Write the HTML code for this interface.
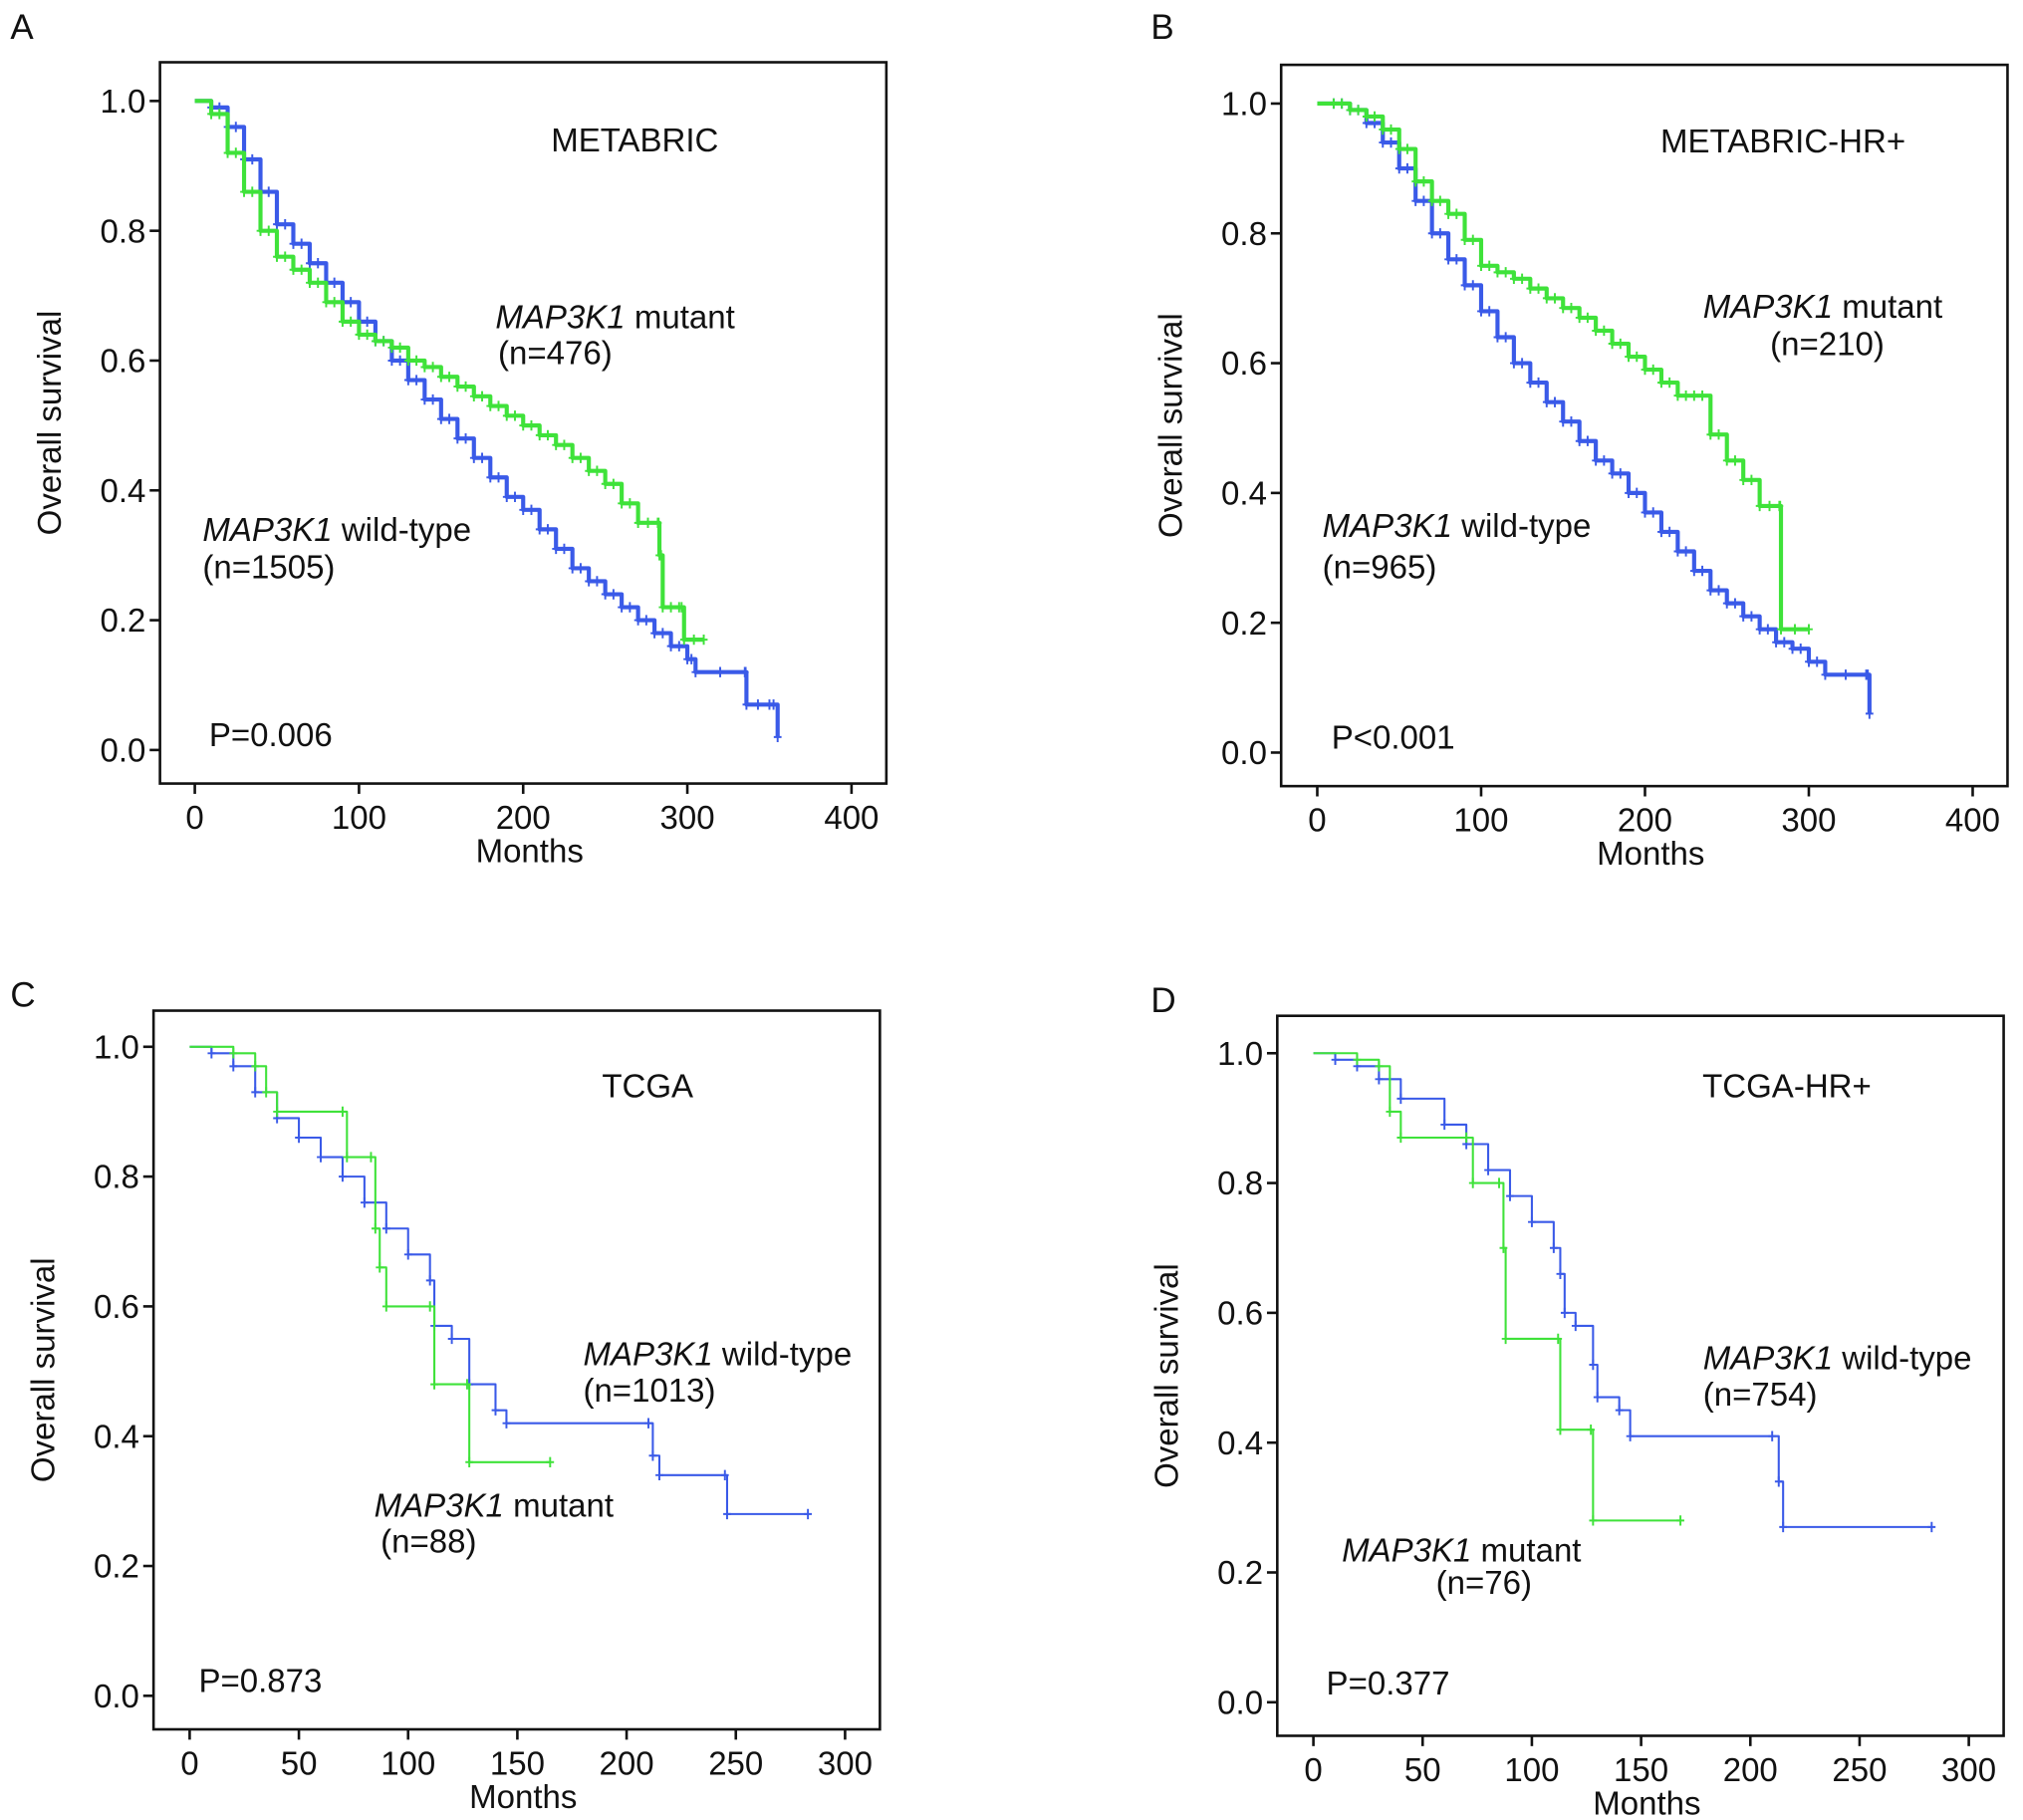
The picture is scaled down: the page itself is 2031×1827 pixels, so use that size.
<!DOCTYPE html>
<html><head><meta charset="utf-8"><style>
html,body{margin:0;padding:0;background:#fff}
svg{display:block}
text{font-family:"Liberation Sans",Arial,sans-serif;fill:#111}
</style></head><body>
<svg id="fig" width="2031" height="1827" viewBox="0 0 1568 1410"></svg>
<script>
// Panel A (METABRIC)
const aWildT=[0,10,20,30,40,50,60,70,80,90,100,110,120,130,140,150,160,170,180,190,200,210,220,230,240,250,260,270,280,290,300,305,335,336,350,355];
const aWildS=[1,0.99,0.96,0.91,0.86,0.81,0.78,0.75,0.72,0.69,0.66,0.63,0.60,0.57,0.54,0.51,0.48,0.45,0.42,0.39,0.37,0.34,0.31,0.28,0.26,0.24,0.22,0.20,0.18,0.16,0.14,0.12,0.12,0.07,0.07,0.02];
const aMutT=[0,10,20,30,40,50,60,70,80,90,100,110,120,130,140,150,160,170,180,190,200,210,220,230,240,250,260,270,282,283,285,295,298,310];
const aMutS=[1,0.98,0.92,0.86,0.80,0.76,0.74,0.72,0.69,0.66,0.64,0.63,0.62,0.60,0.59,0.575,0.56,0.545,0.53,0.515,0.50,0.485,0.47,0.45,0.43,0.41,0.38,0.35,0.35,0.30,0.22,0.22,0.17,0.17];
// Panel B (METABRIC-HR+)
const bWildT=[0,10,20,30,40,50,60,70,80,90,100,110,120,130,140,150,160,170,180,190,200,210,220,230,240,250,260,270,280,290,300,310,335,337];
const bWildS=[1,1,0.99,0.97,0.94,0.90,0.85,0.80,0.76,0.72,0.68,0.64,0.60,0.57,0.54,0.51,0.48,0.45,0.43,0.40,0.37,0.34,0.31,0.28,0.25,0.23,0.21,0.19,0.17,0.16,0.14,0.12,0.12,0.06];
const bMutT=[0,10,20,30,40,50,60,70,80,90,100,110,120,130,140,150,160,170,180,190,200,210,220,230,240,250,260,270,282,283,300];
const bMutS=[1,1,0.99,0.98,0.96,0.93,0.88,0.85,0.83,0.79,0.75,0.74,0.73,0.715,0.70,0.685,0.67,0.65,0.63,0.61,0.59,0.57,0.55,0.55,0.49,0.45,0.42,0.38,0.38,0.19,0.19];
// Panel C (TCGA)
const cWildT=[0,10,20,30,40,50,60,70,80,90,100,110,112,120,128,140,145,210,212,215,245,246,283];
const cWildS=[1,0.99,0.97,0.93,0.89,0.86,0.83,0.80,0.76,0.72,0.68,0.64,0.57,0.55,0.48,0.44,0.42,0.42,0.37,0.34,0.34,0.28,0.28];
const cMutT=[0,20,30,35,40,70,72,83,85,87,90,110,112,127,128,165];
const cMutS=[1,0.99,0.97,0.93,0.90,0.90,0.83,0.83,0.72,0.66,0.60,0.60,0.48,0.48,0.36,0.36];
// Panel D (TCGA-HR+)
const dWildT=[0,10,20,30,40,60,70,80,90,100,110,113,115,120,128,130,140,145,210,213,215,283];
const dWildS=[1,0.99,0.98,0.96,0.93,0.89,0.86,0.82,0.78,0.74,0.70,0.66,0.60,0.58,0.52,0.47,0.45,0.41,0.41,0.34,0.27,0.27];
const dMutT=[0,20,30,35,40,70,73,85,87,88,112,113,127,128,168];
const dMutS=[1,0.99,0.98,0.91,0.87,0.87,0.80,0.80,0.70,0.56,0.56,0.42,0.42,0.28,0.28];
const yTicks=["0.0","0.2","0.4","0.6","0.8","1.0"];
const xTicksA=["0","100","200","300","400"];
const xTicksC=["0","50","100","150","200","250","300"];

const NS="http://www.w3.org/2000/svg";
const svg=document.getElementById('fig');
const FS=25.5;
function mk(tag,attrs,parent){const e=document.createElementNS(NS,tag);for(const k in attrs)e.setAttribute(k,attrs[k]);(parent||svg).appendChild(e);return e;}
function txt(x,y,s,size,parent,anchor){const t=mk('text',{x:x,y:y,'font-size':size,'text-anchor':anchor||'start'},parent);t.textContent=s;return t;}

const panels=[
 {letter:"A",lx:8,ly:30,box:[124,48,687,607],x0:151,xmax:400,x1:660,y1:78,y0:581,xt:xTicksA,dense:true,
  title:"METABRIC",tx:492,ty:117,wild:[aWildT,aWildS],mut:[aMutT,aMutS],p:"P=0.006",px:162,py:578,
  mutLab:[384,254,"(n=476)",386,282],wildLab:[157,419,"(n=1505)",157,448],wildSuffix:" wild-type",mutSuffix:" mutant"},
 {letter:"B",lx:892,ly:30,box:[993,50,1556,609],x0:1021,xmax:400,x1:1529,y1:80,y0:583,xt:xTicksA,dense:true,
  title:"METABRIC-HR+",tx:1382,ty:118,wild:[bWildT,bWildS],mut:[bMutT,bMutS],p:"P<0.001",px:1032,py:580,
  mutLab:[1320,246,"(n=210)",1372,275],wildLab:[1025,416,"(n=965)",1025,448],wildSuffix:" wild-type",mutSuffix:" mutant"},
 {letter:"C",lx:8,ly:780,box:[119,783,682,1340],x0:147,xmax:300,x1:655,y1:811,y0:1314,xt:xTicksC,dense:false,
  title:"TCGA",tx:502,ty:850,wild:[cWildT,cWildS],mut:[cMutT,cMutS],p:"P=0.873",px:154,py:1311,
  mutLab:[290,1175,"(n=88)",295,1203],wildLab:[452,1058,"(n=1013)",452,1086],wildSuffix:" wild-type",mutSuffix:" mutant"},
 {letter:"D",lx:892,ly:784,box:[990,787,1553,1345],x0:1018,xmax:300,x1:1526,y1:816,y0:1319,xt:xTicksC,dense:false,
  title:"TCGA-HR+",tx:1385,ty:850,wild:[dWildT,dWildS],mut:[dMutT,dMutS],p:"P=0.377",px:1028,py:1313,
  mutLab:[1040,1210,"(n=76)",1113,1235],wildLab:[1320,1061,"(n=754)",1320,1089],wildSuffix:" wild-type",mutSuffix:" mutant"}
];

function drawCurve(g,T,S,sx,sy,color,name,dense){
  let d="M"+sx(T[0])+","+sy(S[0]);
  for(let i=1;i<T.length;i++){d+=" H"+sx(T[i])+" V"+sy(S[i]);}
  const p=mk('path',{d:d,fill:'none',stroke:color,'stroke-width':dense?3.2:1.6,'stroke-linejoin':'round'},g);
  
  
  let m="";
  for(let i=1;i<T.length;i++){const x=sx(T[i]),y=sy(S[i]);m+="M"+x+","+(y-4)+" V"+(y+4)+" M"+(x-3)+","+y+" H"+(x+3)+" ";
    if(dense&&i<T.length-1){const xm=(x+sx(T[i+1]))/2;m+="M"+xm+","+(y-4)+" V"+(y+4)+" ";}}
  const c=mk('path',{d:m,fill:'none',stroke:color,'stroke-width':1.5},g);
  
  
}

panels.forEach((P,k)=>{
  const g=mk('g',{});
  
  
  const sx=t=>P.x0+(P.x1-P.x0)*t/P.xmax;
  const sy=s=>P.y0+(P.y1-P.y0)*s;
  const L=txt(P.lx,P.ly,P.letter,27,g);
  
  const [bx0,by0,bx1,by1]=P.box;
  const r=mk('rect',{x:bx0,y:by0,width:bx1-bx0,height:by1-by0,fill:'none',stroke:'#111','stroke-width':2},g);
  
  yTicks.forEach(v=>{const y=sy(parseFloat(v));
    mk('line',{x1:bx0-8,x2:bx0,y1:y,y2:y,stroke:'#111','stroke-width':2},g);
    const t=txt(bx0-11,y+9,v,FS,g,'end');});
  P.xt.forEach(v=>{const x=sx(parseFloat(v));
    mk('line',{x1:x,x2:x,y1:by1,y2:by1+8,stroke:'#111','stroke-width':2},g);
    const t=txt(x,by1+35,v,FS,g,'middle');});
  const xt=txt((bx0+bx1)/2+5,by1+61,"Months",FS,g,'middle');
  
  const cy=(by0+by1)/2;
  const yt=txt(0,0,"Overall survival",FS,g,'middle');
  yt.setAttribute('transform','translate('+(bx0-77)+','+cy+') rotate(-90)');
  
  const tt=txt(P.tx,P.ty,P.title,FS,g,'middle');
  
  drawCurve(g,P.wild[0],P.wild[1],sx,sy,'#3a5ae8','wild-type',P.dense);
  drawCurve(g,P.mut[0],P.mut[1],sx,sy,'#3fe23a','mutant',P.dense);
  const pv=txt(P.px,P.py,P.p,FS,g);
  [[P.mutLab,P.mutSuffix,'mutant-label'],[P.wildLab,P.wildSuffix,'wild-type-label']].forEach(([lab,suf,nm])=>{
    const t=mk('text',{x:lab[0],y:lab[1],'font-size':FS},g);
    const i=mk('tspan',{'font-style':'italic'},t);i.textContent="MAP3K1";
    const s=mk('tspan',{},t);s.textContent=suf;
    
    const n=txt(lab[3],lab[4],lab[2],FS,g);
  });
});
</script>
</body></html>
